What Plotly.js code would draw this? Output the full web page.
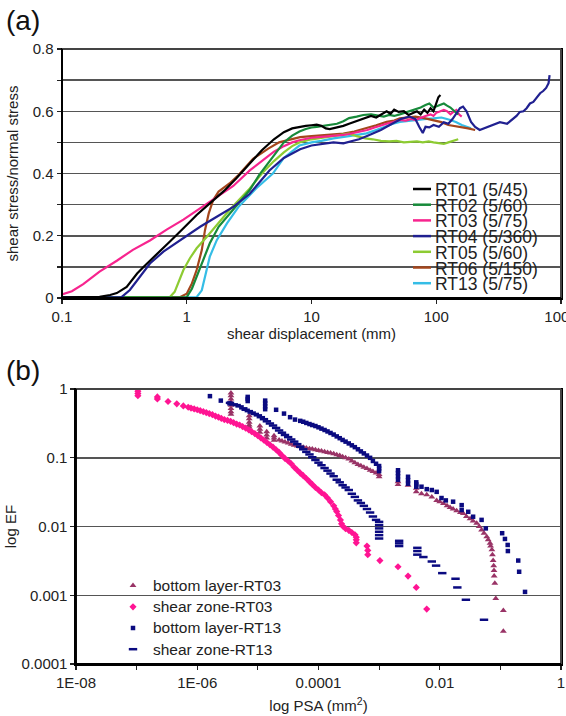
<!DOCTYPE html>
<html><head><meta charset="utf-8">
<script src="https://cdn.plot.ly/plotly-3.0.1.min.js"></script>
<style>html,body{margin:0;padding:0;background:#fff}</style>
</head><body><div id="chart" style="width:566px;height:716px"></div>
<script>
// ---------- Panel (a): shear displacement (mm) vs shear stress / normal stress ----------
const seriesNamesA = ['RT01 (5/45)','RT02 (5/60)','RT03 (5/75)','RT04 (5/360)','RT05 (5/60)','RT06 (5/150)','RT13 (5/75)'];
const dispRT01 = [0.1,0.15,0.2,0.243,0.275,0.33,0.4,0.45,0.57,0.73,0.94,1.2,1.53,2.0,2.5,3.0,3.5,4.0,5.0,6.0,7,8,9,10,11,12,13,14,16,18,20,23,26,30,33,36,40,43,46,50,55,60,65,70,75,80,85,90,95,100,104,108];
const ratioRT01 = [0.002,0.002,0.004,0.01,0.016,0.036,0.079,0.10,0.138,0.181,0.224,0.267,0.304,0.345,0.385,0.42,0.45,0.475,0.51,0.533,0.545,0.55,0.553,0.555,0.557,0.553,0.545,0.543,0.548,0.553,0.56,0.568,0.575,0.585,0.58,0.59,0.6,0.592,0.605,0.598,0.6,0.588,0.595,0.6,0.59,0.605,0.595,0.61,0.6,0.63,0.645,0.652];
const dispRT02 = [0.1,1.0,1.1,1.2,1.36,1.53,1.8,2.36,3.2,3.8,4.4,5,6,7,8,9,10,11,12,14,16,18,20,23,26,30,34,38,42,46,51,56,62,68,75,82,88,95,100,108,115,122,130,140,150];
const ratioRT02 = [0.002,0.003,0.03,0.068,0.122,0.176,0.229,0.283,0.347,0.395,0.43,0.46,0.5,0.522,0.535,0.543,0.548,0.55,0.552,0.556,0.56,0.568,0.578,0.583,0.588,0.59,0.585,0.583,0.588,0.585,0.59,0.595,0.6,0.607,0.612,0.62,0.625,0.612,0.615,0.62,0.625,0.618,0.612,0.6,0.59];
const dispRT03 = [0.1,0.12,0.148,0.2,0.275,0.37,0.507,0.69,0.94,1.28,1.74,2.36,3.2,4,5,6,7,8,10,12,15,18,20,24,28,32,36,40,45,51,57,63,68,75,82,90,95,100,108,115,122,130,137,145,152,160];
const ratioRT03 = [0.012,0.022,0.045,0.085,0.12,0.155,0.185,0.22,0.252,0.288,0.325,0.36,0.41,0.44,0.47,0.488,0.5,0.507,0.515,0.518,0.52,0.524,0.527,0.534,0.54,0.548,0.555,0.56,0.565,0.572,0.57,0.575,0.572,0.58,0.585,0.59,0.585,0.595,0.6,0.604,0.6,0.59,0.598,0.604,0.59,0.583];
const dispRT04 = [0.1,0.3,0.35,0.42,0.507,0.65,0.94,1.28,1.74,2.36,3.2,4.6,6.0,7.3,8.1,10,12,15,18,20,24,27.6,32,36,40,45,52,61,68,73,78,82,88,95,105,115,125,135,145,155,164,175,190,205,223,250,280,324,370,414,440,468,500,530,564,600,640,680,720,760,795,810];
const ratioRT04 = [0.002,0.003,0.026,0.068,0.111,0.149,0.192,0.229,0.261,0.293,0.335,0.41,0.45,0.47,0.478,0.49,0.495,0.5,0.497,0.502,0.51,0.52,0.53,0.54,0.55,0.562,0.575,0.583,0.575,0.55,0.53,0.55,0.548,0.556,0.55,0.565,0.56,0.575,0.593,0.61,0.615,0.6,0.566,0.55,0.54,0.548,0.555,0.565,0.56,0.577,0.585,0.598,0.6,0.61,0.625,0.63,0.645,0.658,0.665,0.675,0.69,0.716];
const dispRT05 = [0.1,0.73,0.8,0.88,0.94,1.06,1.2,1.45,1.74,2.2,3.2,4,5,6,7,8,10,12,15,18,20,23,27,31,36,42,48,55,62,70,78,87,95,105,115,125,135,145,150];
const ratioRT05 = [0.002,0.003,0.02,0.058,0.09,0.128,0.16,0.197,0.235,0.283,0.352,0.40,0.44,0.468,0.488,0.5,0.51,0.515,0.52,0.525,0.528,0.52,0.513,0.51,0.505,0.503,0.505,0.5,0.502,0.503,0.5,0.503,0.5,0.497,0.495,0.5,0.505,0.508,0.51];
const dispRT06 = [0.1,0.88,1.0,1.1,1.2,1.32,1.4,1.5,1.63,1.8,2.2,2.6,3.4,4.5,5.5,7,8.1,10,12,15,18,22,27.6,33,40,46,51,58,68,80,95,110,125,140,160,180,205];
const ratioRT06 = [0.002,0.003,0.014,0.047,0.09,0.154,0.218,0.272,0.315,0.342,0.368,0.395,0.447,0.48,0.5,0.512,0.517,0.52,0.522,0.524,0.528,0.535,0.545,0.555,0.566,0.57,0.577,0.58,0.583,0.578,0.572,0.565,0.556,0.553,0.55,0.545,0.54];
const dispRT13 = [0.1,1.2,1.32,1.4,1.53,1.74,2.1,2.6,3.6,4.9,6,8,10,12,15,20,27.6,33,38,45,51,60,68,80,95,110,130,145,160,175,190];
const ratioRT13 = [0.002,0.003,0.025,0.068,0.133,0.186,0.24,0.293,0.352,0.40,0.45,0.49,0.5,0.505,0.513,0.52,0.529,0.54,0.55,0.56,0.566,0.57,0.572,0.575,0.577,0.58,0.572,0.565,0.556,0.55,0.545];
const colorsA = ['#000000','#178a3a','#f7248e','#202090','#8dcb32','#a4461c','#35bde6'];

const tickValsA_x = [0.1,1,10,100,1000];
const tickTextA_x = ['0.1','1','10','100','1000'];
const tickValsA_y = [0,0.2,0.4,0.6,0.8];
const tickTextA_y = ['0','0.2','0.4','0.6','0.8'];
const minorValsA_y = [0.1,0.3,0.5,0.7];

// ---------- Panel (b): log PSA (mm2) vs log EF ----------
const seriesNamesB = ['bottom layer-RT03','shear zone-RT03','bottom layer-RT13','shear zone-RT13'];
const psaBottomRT03 = [3.6e-6,3.6e-6,3.6e-6,3.6e-6,3.6e-6,3.6e-6,3.6e-6,3.6e-6,7.2e-6,7.2e-6,7.2e-6,7.2e-6,7.2e-6,1.08e-5,1.08e-5,1.08e-5,1.4e-5,1.4e-5,1.4e-5,1.85e-5,1.85e-5,1.85e-5,
 2.24e-5,2.5e-5,2.8e-5,3.16e-5,3.55e-5,3.98e-5,4.47e-5,5.0e-5,5.6e-5,6.3e-5,7.1e-5,7.9e-5,8.9e-5,
 1.0e-4,1.12e-4,1.26e-4,1.41e-4,1.58e-4,1.78e-4,2.0e-4,2.24e-4,2.5e-4,2.8e-4,3.16e-4,3.55e-4,3.98e-4,4.47e-4,5.0e-4,5.6e-4,6.3e-4,7.1e-4,7.9e-4,8.9e-4,1.0e-3,1.0e-3,
 2.05e-3,2.05e-3,3.0e-3,4.1e-3,4.1e-3,5.0e-3,6.1e-3,7.4e-3,8.9e-3,1.0e-2,1.15e-2,1.32e-2,1.48e-2,1.66e-2,1.9e-2,2.19e-2,2.45e-2,2.75e-2,3.16e-2,3.55e-2,
 4.07e-2,4.47e-2,4.9e-2,5.37e-2,5.96e-2,6.3e-2,6.76e-2,6.9e-2,7.24e-2,7.4e-2,7.6e-2,7.76e-2,7.85e-2,7.9e-2,8.1e-2,8.4e-2,0.112,0.112];
const efBottomRT03 = [0.88,0.8,0.72,0.65,0.58,0.52,0.47,0.43,0.41,0.37,0.33,0.3,0.28,0.29,0.26,0.235,0.24,0.215,0.195,0.21,0.195,0.18,
 0.182,0.176,0.17,0.164,0.158,0.153,0.149,0.145,0.142,0.139,0.136,0.134,0.131,
 0.128,0.126,0.123,0.12,0.118,0.115,0.111,0.108,0.104,0.1,0.096,0.09,0.085,0.08,0.077,0.073,0.07,0.066,0.063,0.06,0.057,0.053,
 0.045,0.041,0.04,0.036,0.032,0.03,0.029,0.027,0.024,0.023,0.0217,0.02,0.019,0.018,0.017,0.016,0.0155,0.014,0.013,0.012,
 0.0112,0.01,0.0089,0.008,0.0071,0.0064,0.0057,0.0052,0.0046,0.0039,0.0032,0.0027,0.0023,0.0019,0.0015,0.0009,0.0006,0.0003];
const psaShearRT03 = [1.05e-7,1.05e-7,1.05e-7,1.05e-7,2.2e-7,2.2e-7,3.3e-7,4.6e-7,5.9e-7,7.1e-7,7.9e-7,8.9e-7,
 1.0e-6,1.12e-6,1.26e-6,1.41e-6,1.58e-6,1.78e-6,2.0e-6,2.24e-6,2.5e-6,2.8e-6,3.16e-6,3.55e-6,3.98e-6,4.47e-6,5.0e-6,5.6e-6,6.3e-6,7.1e-6,7.9e-6,8.9e-6,
 1.0e-5,1.12e-5,1.26e-5,1.41e-5,1.58e-5,1.78e-5,2.0e-5,2.24e-5,2.5e-5,2.8e-5,3.16e-5,3.55e-5,3.98e-5,4.47e-5,5.0e-5,5.6e-5,6.3e-5,7.1e-5,7.9e-5,8.9e-5,
 1.0e-4,1.12e-4,1.26e-4,1.41e-4,1.58e-4,1.78e-4,1.9e-4,2.0e-4,2.14e-4,2.3e-4,2.4e-4,2.5e-4,2.8e-4,3.16e-4,3.55e-4,4.0e-4,4.2e-4,4.2e-4,4.2e-4,
 6.3e-4,6.5e-4,6.5e-4,1.03e-3,2.05e-3,3.0e-3,4.1e-3,6.1e-3];
const efShearRT03 = [1.0,0.93,0.86,0.8,0.77,0.72,0.66,0.61,0.57,0.545,0.53,0.515,
 0.5,0.485,0.47,0.455,0.44,0.425,0.405,0.39,0.375,0.36,0.35,0.34,0.325,0.31,0.3,0.285,0.27,0.255,0.24,0.225,
 0.21,0.195,0.18,0.167,0.155,0.143,0.131,0.12,0.108,0.098,0.09,0.082,0.073,0.066,0.06,0.055,0.05,0.045,0.041,0.037,
 0.034,0.031,0.029,0.026,0.023,0.02,0.018,0.0165,0.0145,0.0125,0.011,0.0102,0.0093,0.0088,0.0082,0.0076,0.007,0.0064,0.0058,
 0.0052,0.0045,0.0039,0.0032,0.0026,0.0019,0.0013,0.00063];
const psaBottomRT13 = [1.62e-6,2.45e-6,3.4e-6,6.8e-6,6.8e-6,6.8e-6,1.32e-5,1.32e-5,1.32e-5,1.32e-5,2.0e-5,2.7e-5,3.4e-5,4.1e-5,
 5.0e-5,5.6e-5,6.3e-5,7.1e-5,7.9e-5,8.9e-5,
 1.0e-4,1.12e-4,1.26e-4,1.41e-4,1.58e-4,1.78e-4,2.0e-4,2.24e-4,2.5e-4,2.8e-4,3.16e-4,3.55e-4,3.98e-4,4.47e-4,5.0e-4,5.6e-4,6.3e-4,7.1e-4,7.9e-4,8.9e-4,
 1.0e-3,1.0e-3,1.0e-3,2.05e-3,2.05e-3,2.05e-3,2.05e-3,3.0e-3,3.0e-3,3.0e-3,4.1e-3,4.1e-3,4.1e-3,5.0e-3,6.1e-3,7.4e-3,8.9e-3,
 1.07e-2,1.26e-2,1.66e-2,2.3e-2,2.3e-2,2.95e-2,3.55e-2,4.9e-2,5.75e-2,0.107,0.119,0.132,0.133,0.197,0.204,0.255];
const efBottomRT13 = [0.79,0.68,0.62,0.77,0.72,0.67,0.68,0.62,0.56,0.51,0.5,0.44,0.39,0.36,
 0.345,0.335,0.322,0.31,0.3,0.29,
 0.278,0.266,0.254,0.242,0.23,0.218,0.205,0.193,0.182,0.172,0.162,0.152,0.143,0.133,0.124,0.116,0.108,0.1,0.09,0.082,
 0.076,0.07,0.064,0.066,0.06,0.054,0.048,0.053,0.047,0.042,0.044,0.041,0.038,0.038,0.035,0.034,0.032,
 0.026,0.024,0.023,0.0205,0.0174,0.0164,0.0139,0.0125,0.0094,0.008,0.0066,0.0054,0.0044,0.0032,0.0022,0.00112];
const psaShearRT13 = [3.47e-6,4.0e-6,4.47e-6,5.0e-6,5.75e-6,6.3e-6,7.1e-6,7.9e-6,8.9e-6,
 1.0e-5,1.12e-5,1.26e-5,1.41e-5,1.58e-5,1.78e-5,2.0e-5,2.24e-5,2.5e-5,2.8e-5,3.16e-5,3.55e-5,3.98e-5,4.47e-5,5.0e-5,5.6e-5,6.3e-5,7.1e-5,7.9e-5,8.9e-5,
 1.0e-4,1.12e-4,1.26e-4,1.41e-4,1.58e-4,1.78e-4,2.0e-4,2.24e-4,2.5e-4,2.8e-4,3.16e-4,3.55e-4,3.98e-4,4.47e-4,5.0e-4,5.6e-4,6.3e-4,7.1e-4,7.9e-4,8.9e-4,
 1.0e-3,1.0e-3,1.0e-3,1.0e-3,1.0e-3,1.0e-3,2.14e-3,2.14e-3,2.14e-3,4.27e-3,4.27e-3,4.27e-3,5.37e-3,7.4e-3,8.7e-3,1.1e-2,1.82e-2,1.95e-2,2.7e-2,5.37e-2];
const efShearRT13 = [0.63,0.6,0.585,0.56,0.525,0.5,0.478,0.455,0.435,
 0.415,0.39,0.365,0.34,0.316,0.295,0.272,0.25,0.232,0.215,0.2,0.185,0.172,0.158,0.145,0.133,0.122,0.112,0.102,0.093,
 0.085,0.078,0.071,0.065,0.059,0.054,0.048,0.044,0.04,0.037,0.034,0.03,0.027,0.024,0.022,0.02,0.018,0.016,0.014,0.0125,
 0.0117,0.0105,0.0094,0.0084,0.0075,0.0067,0.0062,0.0057,0.0052,0.0049,0.0044,0.0039,0.0036,0.0031,0.0027,0.0021,0.00174,0.0013,0.00086,0.00044];
const colorsB = ['#993366','#ff1493','#0a0a80','#0a0a80'];

const tickValsB_x = [1e-8,1e-6,1e-4,1e-2,1];
const tickTextB_x = ['1E-08','1E-06','0.0001','0.01','1'];
const minorValsB_x = [1e-7,1e-5,1e-3,1e-1];
const tickValsB_y = [1e-4,1e-3,1e-2,1e-1,1];
const tickTextB_y = ['0.0001','0.001','0.01','0.1','1'];

// ---------- build traces ----------
const xsA = [dispRT01,dispRT02,dispRT03,dispRT04,dispRT05,dispRT06,dispRT13];
const ysA = [ratioRT01,ratioRT02,ratioRT03,ratioRT04,ratioRT05,ratioRT06,ratioRT13];
const drawOrderA = [6,5,4,2,1,3,0];
const traces = [];
drawOrderA.forEach(function(i){
  traces.push({
    type:'scatter', mode:'lines', x: xsA[i], y: ysA[i], name: seriesNamesA[i],
    line: {color: colorsA[i], width: 2.2}, showlegend:false,
    xaxis:'x', yaxis:'y'
  });
});
const xsB = [psaBottomRT03, psaShearRT03, psaBottomRT13, psaShearRT13];
const ysB = [efBottomRT03, efShearRT03, efBottomRT13, efShearRT13];
const markersB = [
  {symbol:'triangle-up', size:6, color:colorsB[0]},
  {symbol:'diamond', size:5.5, color:colorsB[1]},
  {symbol:'square', size:4.5, color:colorsB[2]},
  {symbol:'line-ew', size:6, color:colorsB[3], line:{color:colorsB[3], width:2.5}}
];
for (let i=0;i<4;i++){
  traces.push({
    type:'scatter', mode:'markers', x: xsB[i], y: ysB[i],
    name: '<span style="font-size:15.5px">' + seriesNamesB[i] + '</span>',
    marker: markersB[i], xaxis:'x2', yaxis:'y2', legend:'legend2'
  });
}

// ---------- page geometry (pixels) ----------
const plotL = 62, plotW = 499, plotBottom = 664, plotH = 615;
const px2paperX = function(px){ return (px - plotL) / plotW; };
const px2paperY = function(py){ return (plotBottom - py) / plotH; };
const domA_y = [0.595, 1], domB_x = [0.028, 1], domB_y = [0, 0.447];

// ---------- legend of panel (a), laid out like the original (tight line spacing) ----------
const legATextX = 433, legASampleX0 = 413, legASampleX1 = 431, legATopY = 189, legAStep = 15.7;

const annotations = [
  {text:'(a)', xref:'paper', yref:'paper', x:px2paperX(4), y:px2paperY(20), xanchor:'left', yanchor:'middle', showarrow:false, font:{size:28, color:'#111'}},
  {text:'(b)', xref:'paper', yref:'paper', x:px2paperX(4), y:px2paperY(370), xanchor:'left', yanchor:'middle', showarrow:false, font:{size:28, color:'#111'}}
];
// plot frames (left/bottom black, top/right dark grey as in the original)
const frameBoxes = [[0, 1, domA_y[0], domA_y[1]], [domB_x[0], domB_x[1], domB_y[0], domB_y[1]]];
const shapes = [];
frameBoxes.forEach(function(b){
  shapes.push({type:'line', xref:'paper', yref:'paper', x0:b[0], x1:b[1], y0:b[3], y1:b[3], line:{color:'#444', width:2}, layer:'above'});
  shapes.push({type:'line', xref:'paper', yref:'paper', x0:b[1], x1:b[1], y0:b[2], y1:b[3], line:{color:'#444', width:2}, layer:'above'});
  shapes.push({type:'line', xref:'paper', yref:'paper', x0:b[0], x1:b[1], y0:b[2], y1:b[2], line:{color:'#000', width:2}, layer:'above'});
  shapes.push({type:'line', xref:'paper', yref:'paper', x0:b[0], x1:b[0], y0:b[2], y1:b[3], line:{color:'#000', width:2}, layer:'above'});
});
seriesNamesA.forEach(function(nm, i){
  const yc = legATopY + i * legAStep;
  annotations.push({text:nm, xref:'paper', yref:'paper', x:px2paperX(legATextX), y:px2paperY(yc + 1),
    xanchor:'left', yanchor:'middle', showarrow:false, font:{size:17.5, color:'#222'}});
  shapes.push({type:'line', xref:'paper', yref:'paper', x0:px2paperX(legASampleX0), x1:px2paperX(legASampleX1),
    y0:px2paperY(yc), y1:px2paperY(yc), line:{color:colorsA[i], width:2.5}, layer:'above'});
});

const fontFam = 'Liberation Sans, Arial, Helvetica, sans-serif';
const axisCommon = {
  showline:true, linecolor:'#000', linewidth:1.5, mirror:true, zeroline:false,
  ticks:'outside', ticklen:4, tickwidth:1.2, tickcolor:'#222', tickfont:{size:15, color:'#222'},
  ticklabeloverflow:'allow'
};
const layout = {
  width:566, height:716,
  margin:{l:62, r:5, t:49, b:52},
  paper_bgcolor:'#fff', plot_bgcolor:'#fff',
  font:{family:fontFam, size:15, color:'#222'},
  showlegend:true,
  xaxis: Object.assign({}, axisCommon, {
    type:'log', range:[-1,3], domain:[0,1], anchor:'y',
    tickmode:'array', tickvals:tickValsA_x, ticktext:tickTextA_x, showgrid:false,
    title:{text:'shear displacement (mm)', font:{size:15}, standoff:2}
  }),
  yaxis: Object.assign({}, axisCommon, {
    range:[0,0.8], domain:domA_y, anchor:'x',
    tickmode:'array', tickvals:tickValsA_y, ticktext:tickTextA_y,
    showgrid:true, gridcolor:'#555', gridwidth:1.5,
    minor:{tickmode:'array', tickvals:minorValsA_y, showgrid:true, gridcolor:'#555', gridwidth:1.5, ticks:'outside', ticklen:4, tickcolor:'#222'},
    title:{text:'shear stress/normal stress', font:{size:15}, standoff:10}
  }),
  xaxis2: Object.assign({}, axisCommon, {
    type:'log', range:[-8,0], domain:domB_x, anchor:'y2',
    tickmode:'array', tickvals:tickValsB_x, ticktext:tickTextB_x, showgrid:false,
    minor:{tickmode:'array', tickvals:minorValsB_x, showgrid:false, ticks:'outside', ticklen:4, tickcolor:'#222'},
    title:{text:'log PSA (mm<sup>2</sup>)', font:{size:15}, standoff:11}
  }),
  yaxis2: Object.assign({}, axisCommon, {
    type:'log', range:[-4,0], domain:domB_y, anchor:'x2',
    tickmode:'array', tickvals:tickValsB_y, ticktext:tickTextB_y,
    showgrid:true, gridcolor:'#555', gridwidth:1.5,
    title:{text:'log EF', font:{size:15}, standoff:1}
  }),
  legend2:{x:px2paperX(113), xanchor:'left', y:px2paperY(570), yanchor:'top', bgcolor:'rgba(0,0,0,0)', borderwidth:0,
          font:{size:14, color:'#222'}, tracegroupgap:0},
  annotations: annotations,
  shapes: shapes
};
Plotly.newPlot('chart', traces, layout, {displayModeBar:false, staticPlot:true});
</script></body></html>
